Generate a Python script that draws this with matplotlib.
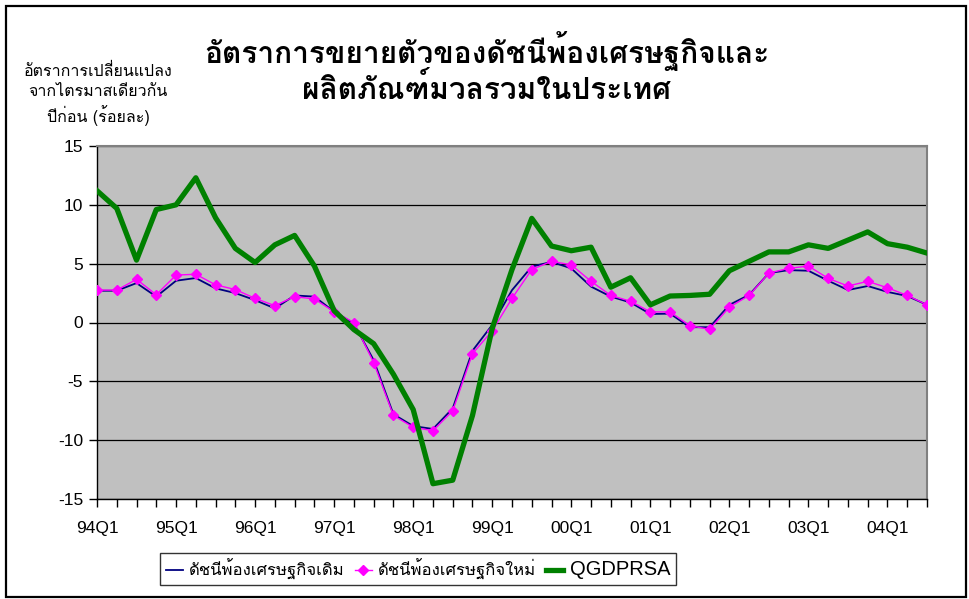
import matplotlib
matplotlib.use("Agg")
import matplotlib.pyplot as plt
from matplotlib.lines import Line2D
from matplotlib.patches import Rectangle

quarters = [f"{y:02d}Q{q}" for y in list(range(94, 100)) + list(range(0, 5)) for q in range(1, 5)][:43]
tick_labels = ["94Q1", "95Q1", "96Q1", "97Q1", "98Q1", "99Q1", "00Q1", "01Q1", "02Q1", "03Q1", "04Q1"]

old_index = [2.7, 2.7, 3.35, 2.2, 3.55, 3.78, 2.9, 2.5, 1.9, 1.2, 2.3, 2.2, 0.92, -0.1,
             -3.2, -7.8, -8.8, -9.05, -7.3, -2.4, -0.2, 2.75, 4.75, 5.15, 4.6, 3.05,
             2.2, 1.7, 0.72, 0.75, -0.4, -0.4, 1.5, 2.35, 4.2, 4.45, 4.4, 3.55, 2.76,
             3.1, 2.6, 2.25, 1.5]
new_index = [2.75, 2.75, 3.67, 2.36, 4.03, 4.1, 3.2, 2.8, 2.05, 1.43, 2.2, 2.0, 0.92, 0.0,
             -3.4, -7.9, -8.9, -9.2, -7.5, -2.65, -0.7, 2.05, 4.5, 5.2, 4.9, 3.5,
             2.3, 1.8, 0.9, 0.9, -0.27, -0.58, 1.3, 2.3, 4.2, 4.6, 4.8, 3.75, 3.1,
             3.5, 2.95, 2.3, 1.5]
qgdprsa = [11.2, 9.7, 5.3, 9.6, 10.0, 12.3, 8.9, 6.3, 5.1, 6.6, 7.4, 4.8, 1.0, -0.6,
           -1.8, -4.4, -7.4, -13.7, -13.4, -7.9, -0.5, 4.5, 8.85, 6.5, 6.1, 6.4,
           3.0, 3.8, 1.5, 2.25, 2.3, 2.4, 4.4, 5.2, 6.0, 6.0, 6.6, 6.3, 7.0,
           7.7, 6.7, 6.4, 5.9]

series_names = ["ดัชนีพ้องเศรษฐกิจเดิม", "ดัชนีพ้องเศรษฐกิจใหม่", "QGDPRSA"]
title_text = "อัตราการขยายตัวของดัชนีพ้องเศรษฐกิจและ\nผลิตภัณฑ์มวลรวมในประเทศ"
ylabel_text = "อัตราการเปลี่ยนแปลง\nจากไตรมาสเดียวกัน\nปีก่อน (ร้อยละ)"

plt.rcParams['font.family'] = ["Loma", "Liberation Sans", "DejaVu Sans"]
plt.rcParams['axes.unicode_minus'] = False

W, H = 969, 599
fig = plt.figure(figsize=(W / 100, H / 100), dpi=100)
ax = fig.add_axes([97 / W, 1 - 499 / H, (927 - 97) / W, (499 - 146) / H])
ax.set_facecolor("#C0C0C0")

x = list(range(len(quarters)))
ax.plot(x, old_index, color="#000080", lw=1.3, zorder=3)
ax.plot(x, new_index, color="#FF00FF", lw=1.0, marker="D", ms=5.5, zorder=4)
ax.plot(x, qgdprsa, color="#008000", lw=3.8, zorder=5)

ax.set_xlim(0, len(quarters) - 1)
ax.set_ylim(-15, 15)
ax.set_yticks([-15, -10, -5, 0, 5, 10, 15])
ax.set_xticks(x, minor=True)
ax.set_xticks([quarters.index(t) for t in tick_labels])
ax.set_xticklabels(tick_labels, family=["Liberation Sans"], fontsize=12.5)
for lab in ax.get_yticklabels():
    lab.set_family(["Liberation Sans"])
    lab.set_fontsize(12.5)
ax.tick_params(axis="x", which="both", direction="out", length=6, width=1, pad=10)
ax.tick_params(axis="y", direction="out", length=6, width=1, pad=4)
ax.yaxis.grid(True, color="black", lw=0.9)
ax.set_axisbelow(True)
for s in ["top", "right"]:
    ax.spines[s].set_color("#808080")
    ax.spines[s].set_linewidth(1.5)
for s in ["left", "bottom"]:
    ax.spines[s].set_color("black")
    ax.spines[s].set_linewidth(1.0)

fig.text(487 / W, 1 - 68 / H, title_text, ha="center", va="center", fontsize=21.5,
         fontweight="bold", linespacing=1.1)
fig.text(98 / W, 1 - 95 / H, ylabel_text, ha="center", va="center", fontsize=11.5,
         linespacing=1.3)

handles = [Line2D([], [], color="#000080", lw=1.3),
           Line2D([], [], color="#FF00FF", lw=1.0, marker="D", ms=5),
           Line2D([], [], color="#008000", lw=3.8)]
leg = fig.legend(handles, series_names, loc="center", bbox_to_anchor=(418 / W, 1 - 569 / H),
                 ncol=3, frameon=True, fancybox=False, fontsize=12, handlelength=1.0,
                 handletextpad=0.4, columnspacing=0.6, borderpad=0.35, borderaxespad=0)
leg.get_frame().set_edgecolor("black")
leg.get_frame().set_linewidth(1.0)
leg.get_texts()[2].set_family(["Liberation Sans"])
leg.get_texts()[2].set_fontsize(14.5)

fig.patches.append(Rectangle((6 / W, 1 - 597 / H), 960 / W, 591 / H, transform=fig.transFigure,
                             fill=False, edgecolor="black", lw=1.6))

fig.savefig("out.png", dpi=100)
